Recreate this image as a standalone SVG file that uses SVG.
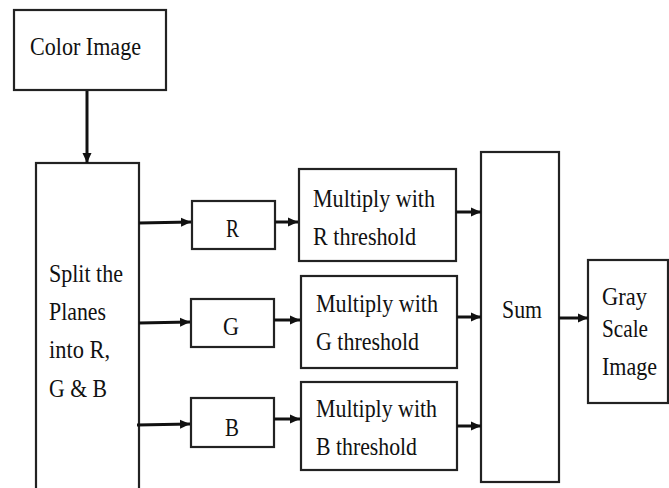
<svg xmlns="http://www.w3.org/2000/svg" width="669" height="488" viewBox="0 0 669 488">
<defs>
<style>
.box{fill:#fff;stroke:#222;stroke-width:2.2}
.t{font-size:25px;fill:#111}
.c{stroke:#111;stroke-width:3;fill:none}
</style>
<marker id="ah" markerUnits="userSpaceOnUse" markerWidth="10" markerHeight="10" viewBox="0 0 10 10" refX="10" refY="5" orient="auto">
<path d="M0,0.5 L10,5 L0,9.5 Z" fill="#111"/>
</marker>
</defs>
<rect width="669" height="488" fill="#fff"/>
<g font-family="Liberation Serif, Times New Roman, serif">
<g id="color-image"><rect class="box" x="14" y="10" width="152" height="80"/><text class="t" x="30" y="55" textLength="111" lengthAdjust="spacingAndGlyphs">Color Image</text></g>
<g id="split"><rect class="box" x="36" y="163" width="103" height="340"/>
<text class="t" x="49" y="282" textLength="74" lengthAdjust="spacingAndGlyphs">Split the</text>
<text class="t" x="49" y="320" textLength="57" lengthAdjust="spacingAndGlyphs">Planes</text>
<text class="t" x="49" y="358" textLength="61" lengthAdjust="spacingAndGlyphs">into R,</text>
<text class="t" x="49" y="397" textLength="58" lengthAdjust="spacingAndGlyphs">G &amp; B</text></g>
<g id="r"><rect class="box" x="192" y="201" width="83" height="48"/><text class="t" x="226" y="237" textLength="13" lengthAdjust="spacingAndGlyphs">R</text></g>
<g id="g"><rect class="box" x="191" y="299" width="83" height="48"/><text class="t" x="223" y="335" textLength="16" lengthAdjust="spacingAndGlyphs">G</text></g>
<g id="b"><rect class="box" x="191" y="398" width="83" height="49"/><text class="t" x="225" y="436" textLength="14" lengthAdjust="spacingAndGlyphs">B</text></g>
<g id="mul-r"><rect class="box" x="299" y="169" width="157" height="92"/>
<text class="t" x="313" y="207" textLength="122" lengthAdjust="spacingAndGlyphs">Multiply with</text>
<text class="t" x="313" y="245" textLength="103" lengthAdjust="spacingAndGlyphs">R threshold</text></g>
<g id="mul-g"><rect class="box" x="301" y="276" width="156" height="92"/>
<text class="t" x="316" y="312" textLength="122" lengthAdjust="spacingAndGlyphs">Multiply with</text>
<text class="t" x="316" y="350" textLength="103" lengthAdjust="spacingAndGlyphs">G threshold</text></g>
<g id="mul-b"><rect class="box" x="301" y="382" width="156" height="88"/>
<text class="t" x="316" y="417" textLength="121" lengthAdjust="spacingAndGlyphs">Multiply with</text>
<text class="t" x="316" y="455" textLength="101" lengthAdjust="spacingAndGlyphs">B threshold</text></g>
<g id="sum"><rect class="box" x="481" y="152" width="78" height="330"/><text class="t" x="502" y="318" textLength="40" lengthAdjust="spacingAndGlyphs">Sum</text></g>
<g id="gray"><rect class="box" x="588" y="260" width="80" height="143"/>
<text class="t" x="602" y="305" textLength="45" lengthAdjust="spacingAndGlyphs">Gray</text>
<text class="t" x="602" y="337" textLength="46" lengthAdjust="spacingAndGlyphs">Scale</text>
<text class="t" x="602" y="375" textLength="55" lengthAdjust="spacingAndGlyphs">Image</text></g>
</g>
<g id="connectors">
<line class="c" x1="87" y1="91" x2="87" y2="163" marker-end="url(#ah)"/>
<line class="c" x1="139" y1="223" x2="191" y2="222" marker-end="url(#ah)"/>
<line class="c" x1="139" y1="323" x2="190" y2="322" marker-end="url(#ah)"/>
<line class="c" x1="137" y1="425" x2="190" y2="424" marker-end="url(#ah)"/>
<line class="c" x1="275" y1="222" x2="298" y2="222" marker-end="url(#ah)"/>
<line class="c" x1="274" y1="320" x2="300" y2="320" marker-end="url(#ah)"/>
<line class="c" x1="274" y1="419" x2="300" y2="419" marker-end="url(#ah)"/>
<line class="c" x1="456" y1="212" x2="481" y2="212" marker-end="url(#ah)"/>
<line class="c" x1="457" y1="317" x2="481" y2="317" marker-end="url(#ah)"/>
<line class="c" x1="457" y1="426" x2="481" y2="426" marker-end="url(#ah)"/>
<line class="c" x1="559" y1="318" x2="588" y2="318" marker-end="url(#ah)"/>
</g>
</svg>
